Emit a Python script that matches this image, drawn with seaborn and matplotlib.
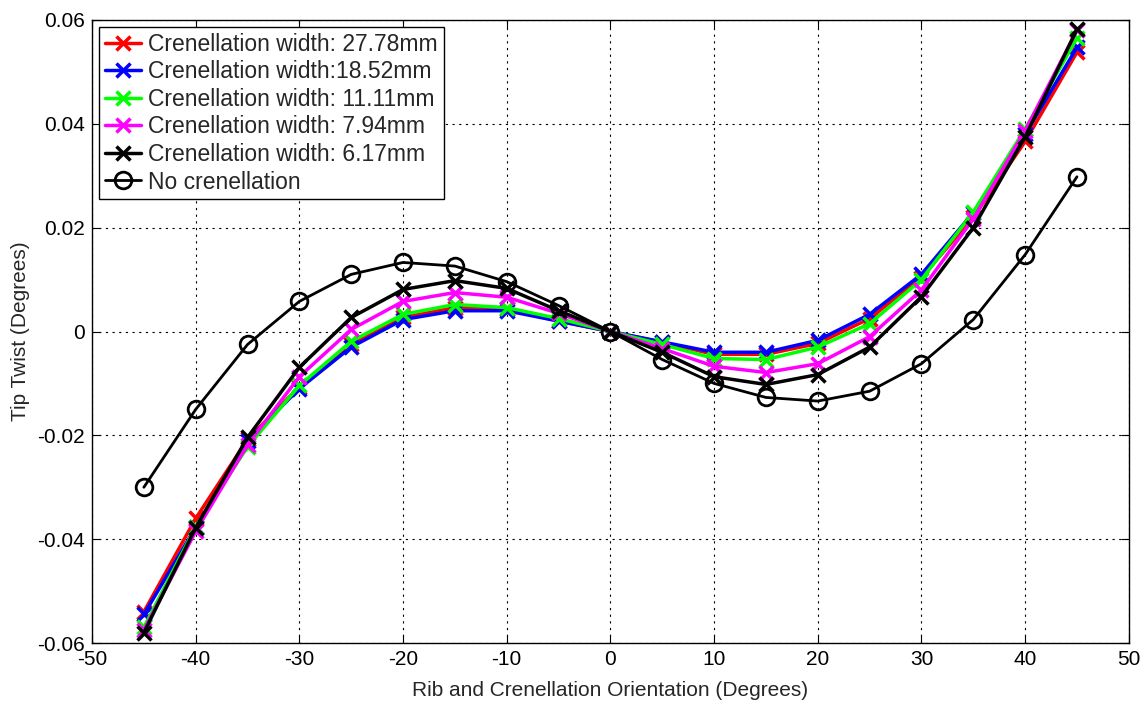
import numpy as np
import pandas as pd
import matplotlib
matplotlib.use("Agg")
import matplotlib.pyplot as plt
import seaborn as sns

angles = [-45, -40, -35, -30, -25, -20, -15, -10, -5, 0, 5, 10, 15, 20, 25, 30, 35, 40, 45]

w2778 = [-0.0540, -0.0360, -0.0208, -0.0106, -0.0025, 0.0027, 0.0046, 0.0044, 0.0020, 0.0,
         -0.0021, -0.0044, -0.0044, -0.0023, 0.0025, 0.0104, 0.0220, 0.0366, 0.0538]
w1852 = [-0.0545, -0.0377, -0.0210, -0.0110, -0.0030, 0.0023, 0.0040, 0.0040, 0.0020, 0.0,
         -0.0020, -0.0040, -0.0040, -0.0017, 0.0033, 0.0110, 0.0229, 0.0380, 0.0547]
w1111 = [-0.0570, -0.0376, -0.0222, -0.0104, -0.0019, 0.0033, 0.0052, 0.0046, 0.0025, 0.0,
         -0.0025, -0.0052, -0.0054, -0.0030, 0.0015, 0.0100, 0.0230, 0.0390, 0.0565]
w794 = [-0.0575, -0.0385, -0.0218, -0.0087, 0.0004, 0.0058, 0.0075, 0.0066, 0.0035, 0.0,
        -0.0033, -0.0067, -0.0079, -0.0062, -0.0010, 0.0080, 0.0217, 0.0387, 0.0580]
w617 = [-0.0580, -0.0378, -0.0204, -0.0069, 0.0027, 0.0081, 0.0098, 0.0083, 0.0040, 0.0,
        -0.0040, -0.0087, -0.0102, -0.0083, -0.0030, 0.0067, 0.0200, 0.0375, 0.0582]
none_ = [-0.0300, -0.0150, -0.0025, 0.0058, 0.0110, 0.0133, 0.0126, 0.0096, 0.0050, 0.0,
         -0.0054, -0.0100, -0.0127, -0.0134, -0.0115, -0.0062, 0.0023, 0.0148, 0.0298]

labels = ["Crenellation width: 27.78mm", "Crenellation width:18.52mm",
          "Crenellation width: 11.11mm", "Crenellation width: 7.94mm",
          "Crenellation width: 6.17mm", "No crenellation"]
series = [w2778, w1852, w1111, w794, w617, none_]
colors = ["#ff0000", "#0000ff", "#00ff00", "#ff00ff", "#000000", "#000000"]
markers = ["x", "x", "x", "x", "x", "o"]
xtick_vals = [-50, -40, -30, -20, -10, 0, 10, 20, 30, 40, 50]
ytick_vals = [-0.06, -0.04, -0.02, 0, 0.02, 0.04, 0.06]
ytick_labels = ["-0.06", "-0.04", "-0.02", "0", "0.02", "0.04", "0.06"]

sns.set_style("white")
plt.rcParams['font.family'] = ['Liberation Sans', 'DejaVu Sans']
plt.rcParams['axes.unicode_minus'] = False

fig = plt.figure(figsize=(11.46, 7.06), dpi=100)
ax = fig.add_axes([0.0803, 0.0892, 0.9047, 0.8825])

for lab, vals, c, m in zip(labels, series, colors, markers):
    df = pd.DataFrame({"x": angles, "y": vals})
    if m == "o":
        sns.lineplot(data=df, x="x", y="y", ax=ax, color=c, marker="o", markersize=12,
                     markerfacecolor="none", markeredgecolor=c, markeredgewidth=2,
                     linewidth=2, label=lab)
    else:
        sns.lineplot(data=df, x="x", y="y", ax=ax, color=c, marker="x", markersize=10,
                     markeredgewidth=2.5, markeredgecolor=c, linewidth=2.5, label=lab)

ax.set_xlim(-50, 50)
ax.set_ylim(-0.06, 0.06)
ax.set_xticks(xtick_vals)
ax.set_xticklabels([str(v) for v in xtick_vals])
ax.set_yticks(ytick_vals)
ax.set_yticklabels(ytick_labels)
ax.grid(True, color="black", linestyle=(0, (2, 4)), linewidth=0.8)
for s in ax.spines.values():
    s.set_color("black")
    s.set_linewidth(1)
ax.tick_params(axis="both", which="both", direction="in", length=6, labelsize=15,
               color="black", labelcolor="black", top=True, right=True,
               bottom=True, left=True)
ax.tick_params(axis="x", pad=5)
ax.tick_params(axis="y", pad=5)
ax.set_xlabel("Rib and Crenellation Orientation (Degrees)", fontsize=15, labelpad=9)
ax.set_ylabel("Tip Twist (Degrees)", fontsize=15, labelpad=5)

leg = ax.legend(loc="upper left", fontsize=16.5, frameon=True, fancybox=False,
                edgecolor="black", framealpha=1, borderpad=0.25, labelspacing=0.2,
                handlelength=1.6, handletextpad=0.3, borderaxespad=0.3)
leg.get_frame().set_linewidth(1)

fig.savefig("out.png", dpi=100)
